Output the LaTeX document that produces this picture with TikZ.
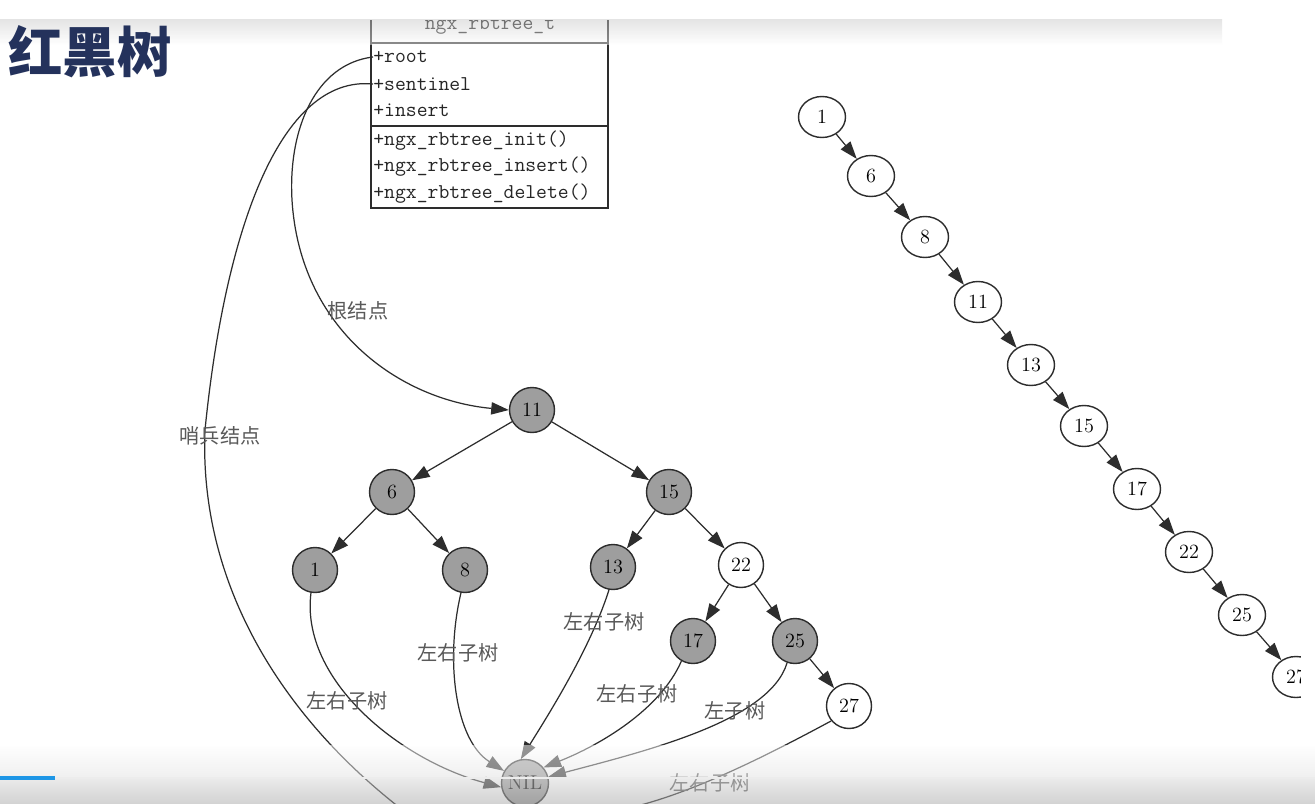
\documentclass[tikz,border=0pt]{standalone}
\usepackage{fontspec}
\newfontfamily\cjk{Noto Sans CJK SC}
\usetikzlibrary{arrows.meta, positioning, shapes.geometric, calc}
\definecolor{nodegray}{RGB}{158,158,158}
\definecolor{linegray}{RGB}{45,45,45}
\definecolor{titleblue}{RGB}{36,50,92}
\definecolor{progressblue}{RGB}{30,150,230}

\begin{document}
\begin{tikzpicture}[
    x=0.02cm, y=-0.02cm,
    rbnode/.style={circle, draw=linegray, line width=0.8pt, fill=nodegray, minimum size=0.9cm, inner sep=0pt, font=\fontsize{11.5}{13}\selectfont},
    rednode/.style={rbnode, fill=white},
    listnode/.style={ellipse, draw=linegray, line width=0.8pt, fill=white, minimum width=0.94cm, minimum height=0.82cm, inner sep=0pt, font=\fontsize{11.5}{13}\selectfont},
    member/.style={anchor=west, inner sep=0pt, text=black!85, font=\ttfamily\fontsize{12}{14}\selectfont},
    sublabel/.style={inner sep=1pt, text=black!65, font=\cjk\fontsize{11.5}{13}\selectfont},
    edge/.style={-{Triangle[length=10pt,width=7pt]}, draw=linegray, line width=0.7pt}
]
    \useasboundingbox (0,0) rectangle (1315,804);
    \clip (0,0) rectangle (1315,804);
    \fill[white] (0,0) rectangle (1315,804);

    % ngx_rbtree_t record
    \node[member, anchor=center] (rbtree) at (490,25) {ngx\_rbtree\_t};
    \node[member] (root) at (373,57) {+root};
    \node[member] (sentinel) at (373,84) {+sentinel};
    \node[member] (insert) at (373,110) {+insert};
    \node[member] (init) at (373,141) {+ngx\_rbtree\_init()};
    \node[member] (ins) at (373,167) {+ngx\_rbtree\_insert()};
    \node[member] (del) at (373,194) {+ngx\_rbtree\_delete()};
    \draw[linegray, line width=0.8pt] (371,8) rectangle (608,208);
    \draw[linegray, line width=0.8pt] (371,43) -- (608,43);
    \draw[linegray, line width=0.8pt] (371,126) -- (608,126);

    % red-black tree
    \node[rbnode] (t11) at (532,410) {11};
    \node[rbnode] (t6) at (392,492) {6};
    \node[rbnode] (t15) at (669,492) {15};
    \node[rbnode] (t1) at (315,570) {1};
    \node[rbnode] (t8) at (465,570) {8};
    \node[rbnode] (t13) at (613,567) {13};
    \node[rednode] (t22) at (741,565) {22};
    \node[rbnode] (t17) at (693,641) {17};
    \node[rbnode] (t25) at (795,641) {25};
    \node[rednode] (t27) at (849,706) {27};
    \node[rbnode, minimum size=0.94cm] (nil) at (525,783) {NIL};

    \draw[edge] (t11) -- (t6);
    \draw[edge] (t11) -- (t15);
    \draw[edge] (t6) -- (t1);
    \draw[edge] (t6) -- (t8);
    \draw[edge] (t15) -- (t13);
    \draw[edge] (t15) -- (t22);
    \draw[edge] (t22) -- (t17);
    \draw[edge] (t22) -- (t25);
    \draw[edge] (t25) -- (t27);

    % root and sentinel pointers
    \draw[edge] (root.west) .. controls (315,64) and (288,130) .. (292,200)
        .. controls (300,330) and (400,400) .. (t11.west);
    \draw[edge] (sentinel.west) .. controls (280,75) and (225,230) .. (205,430)
        .. controls (198,600) and (300,740) .. (430,830)
        .. controls (470,855) and (505,840) .. (nil.250);
    \node[sublabel] (rootlbl) at (358,311) {根结点};
    \node[sublabel] (sentlbl) at (220,436) {哨兵结点};

    % leaves to sentinel
    \draw[edge] (t1.260) .. controls (300,680) and (400,760) .. (nil.190);
    \draw[edge] (t8.260) .. controls (445,660) and (455,740) .. (nil.150);
    \draw[edge] (t13.260) .. controls (590,650) and (545,720) .. (nil.100);
    \draw[edge] (t17.240) .. controls (660,710) and (600,745) .. (nil.40);
    \draw[edge] (t25.250) .. controls (770,720) and (650,750) .. (nil.15);
    \draw[edge] (t27.220) .. controls (740,770) and (620,830) .. (nil.290);
    \node[sublabel] (lbl1) at (347,701) {左右子树};
    \node[sublabel] (lbl8) at (458,653) {左右子树};
    \node[sublabel] (lbl13) at (604,622) {左右子树};
    \node[sublabel] (lbl17) at (637,694) {左右子树};
    \node[sublabel] (lbl25) at (735,711) {左子树};
    \node[sublabel] (lbl27) at (710,783) {左右子树};

    % degenerate tree as a list
    \node[listnode] (l1) at (822,117) {1};
    \node[listnode] (l6) at (871,176) {6};
    \node[listnode] (l8) at (925,237) {8};
    \node[listnode] (l11) at (978,302) {11};
    \node[listnode] (l13) at (1031,365) {13};
    \node[listnode] (l15) at (1084,426) {15};
    \node[listnode] (l17) at (1137,489) {17};
    \node[listnode] (l22) at (1189,552) {22};
    \node[listnode] (l25) at (1242,615) {25};
    \node[listnode] (l27) at (1296,677) {27};
    \draw[edge] (l1) -- (l6);
    \draw[edge] (l6) -- (l8);
    \draw[edge] (l8) -- (l11);
    \draw[edge] (l11) -- (l13);
    \draw[edge] (l13) -- (l15);
    \draw[edge] (l15) -- (l17);
    \draw[edge] (l17) -- (l22);
    \draw[edge] (l22) -- (l25);
    \draw[edge] (l25) -- (l27);

    % player frame and bars
    \fill[white] (1301,20) rectangle (1315,745);
    \fill[white] (0,0) rectangle (1315,20);
    \shade[top color=black!22, bottom color=white, opacity=0.45] (0,20) rectangle (1222,45);
    \shade[top color=white, bottom color=black!12, opacity=0.5] (0,745) rectangle (1315,778);
    \shade[top color=black!15, bottom color=black!35, opacity=0.5] (0,778) rectangle (1315,804);
    \draw[white!85!gray, line width=1pt] (0,778) -- (1315,778);
    \draw[progressblue, line width=2pt] (0,778) -- (55,778);

    % title
    \node[text=titleblue, inner sep=0pt, font=\cjk\bfseries\fontsize{31}{31}\selectfont] (title) at (90,52) {红黑树};
\end{tikzpicture}
\end{document}
